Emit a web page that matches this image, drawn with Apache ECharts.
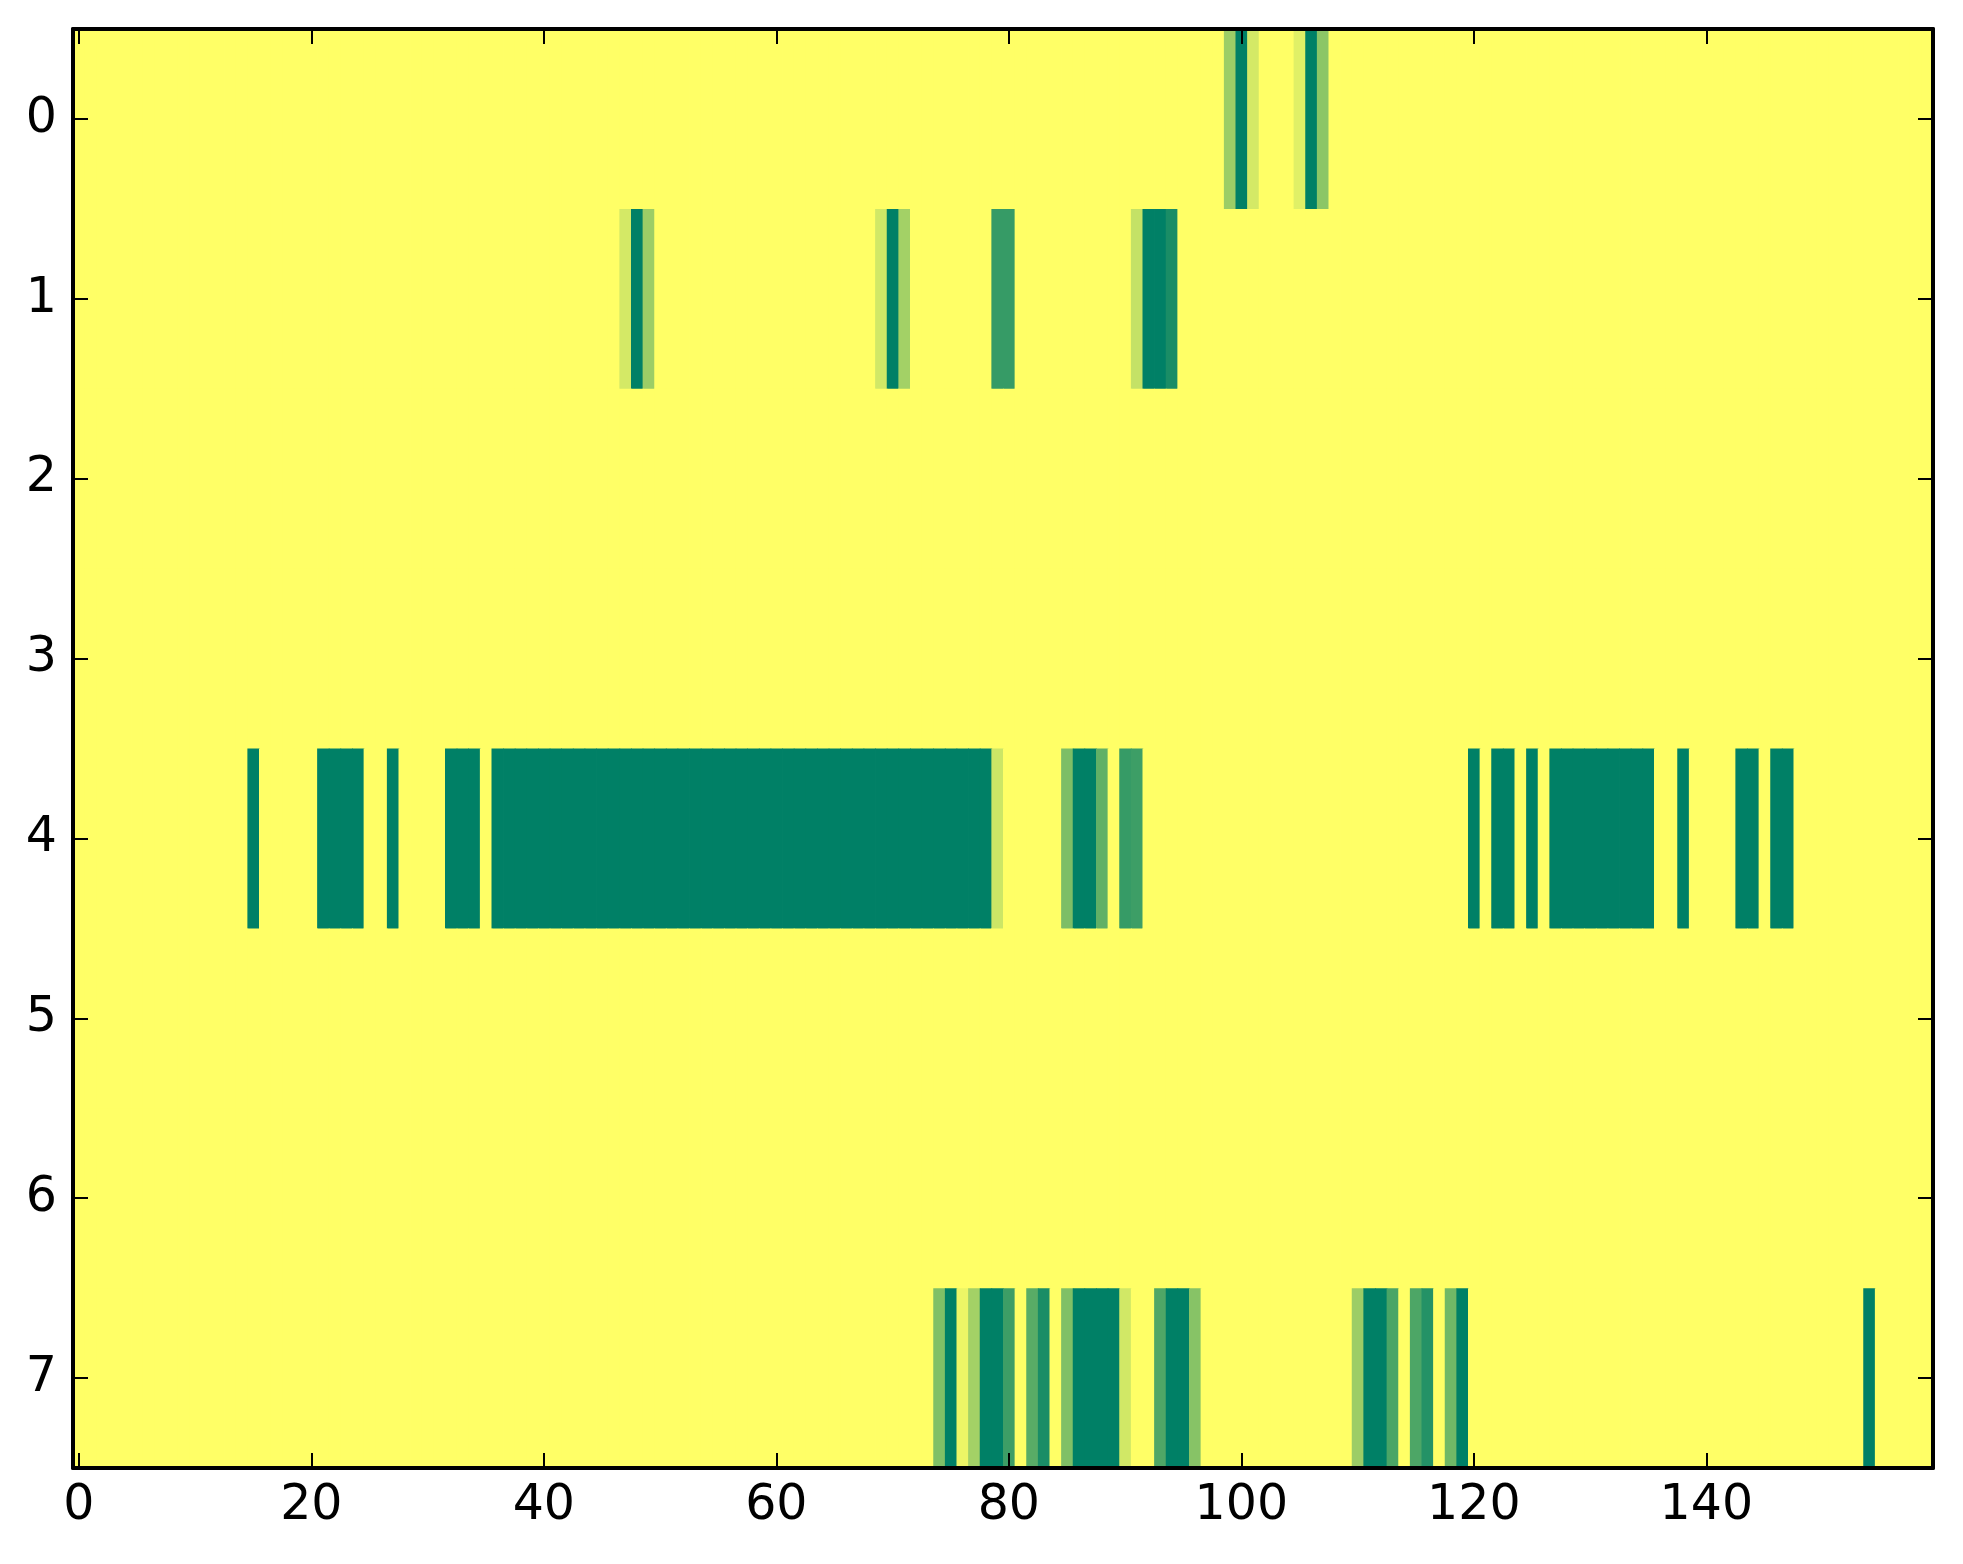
<!DOCTYPE html>
<html>
<head>
<meta charset="utf-8">
<script src="https://cdn.jsdelivr.net/npm/echarts@6/dist/echarts.min.js"></script>
<style>
html,body{margin:0;padding:0;background:#fff;}
#chart{width:1963px;height:1564px;}
</style>
</head>
<body>
<div id="chart"></div>
<script>
// Column and row categories
const nCols = 160;
const xCategories = Array.from({length: nCols}, (_, i) => String(i));
const yCategories = ['0','1','2','3','4','5','6','7'];
const xTickStep = 20;

// Non-zero cells per row: [column, value]; every other cell is 0
const row0 = [[99,0.39],[100,1],[101,0.17],[105,0.12],[106,1],[107,0.45]];
const row1 = [[47,0.17],[48,1],[49,0.39],[69,0.18],[70,1],[71,0.36],[79,0.79],[80,0.79],
              [91,0.23],[92,1],[93,1],[94,0.9]];
const row2 = [];
const row3 = [];
const row4 = [[15,1],[21,1],[22,1],[23,1],[24,1],[27,1],[32,1],[33,1],[34,1],
              [36,1],[37,1],[38,1],[39,1],[40,1],[41,1],[42,1],[43,1],[44,1],[45,1],
              [46,1],[47,1],[48,1],[49,1],[50,1],[51,1],[52,1],[53,1],[54,1],[55,1],
              [56,1],[57,1],[58,1],[59,1],[60,1],[61,1],[62,1],[63,1],[64,1],[65,1],
              [66,1],[67,1],[68,1],[69,1],[70,1],[71,1],[72,1],[73,1],[74,1],[75,1],
              [76,1],[77,1],[78,1],[79,0.2],[85,0.51],[86,1],[87,1],[88,0.62],[90,0.79],[91,0.76],
              [120,1],[122,1],[123,1],[125,1],[127,1],[128,1],[129,1],[130,1],[131,1],
              [132,1],[133,1],[134,1],[135,1],[138,1],[143,1],[144,1],[146,1],[147,1]];
const row5 = [];
const row6 = [];
const row7 = [[74,0.5],[75,1],[76,0.07],[77,0.36],[78,1],[79,1],[80,0.76],[82,0.65],[83,0.9],
              [85,0.5],[86,1],[87,1],[88,1],[89,1],[90,0.18],[93,0.69],[94,1],[95,1],[96,0.47],
              [110,0.39],[111,1],[112,1],[113,0.71],[115,0.7],[116,0.86],[118,0.56],[119,1],[154,1]];
const rows = [row0,row1,row2,row3,row4,row5,row6,row7];

// Build the cell list [x, y, value]
const cells = [];
rows.forEach((r, yi) => {
  const vals = new Array(nCols).fill(0);
  r.forEach(([c, v]) => { vals[c] = v; });
  vals.forEach((v, xi) => cells.push([xi, yi, v]));
});

const FONT = 'DejaVu Sans';
const tickStyle = {show: true, inside: true, length: 15, lineStyle: {color: '#000', width: 2}};
const lineStyle = {show: true, lineStyle: {color: '#000', width: 4}};

const chart = echarts.init(document.getElementById('chart'));
chart.setOption({
  animation: false,
  backgroundColor: '#fff',
  grid: {left: 73, right: 30, top: 29, bottom: 96, containLabel: false},
  xAxis: [
    {type: 'category', data: xCategories, position: 'bottom', z: 10,
     axisLine: lineStyle,
     axisTick: Object.assign({}, tickStyle, {alignWithLabel: true, interval: (i) => i % xTickStep === 0}),
     axisLabel: {interval: (i) => i % xTickStep === 0, color: '#000', fontFamily: FONT, fontSize: 49, margin: 14},
     splitLine: {show: false}},
    {type: 'category', data: xCategories, position: 'top', z: 10,
     axisLine: lineStyle,
     axisTick: Object.assign({}, tickStyle, {alignWithLabel: true, interval: (i) => i % xTickStep === 0}),
     axisLabel: {show: false}, splitLine: {show: false}}
  ],
  yAxis: [
    {type: 'category', data: yCategories, inverse: true, position: 'left', z: 10,
     axisLine: lineStyle,
     axisTick: Object.assign({}, tickStyle, {alignWithLabel: true}),
     axisLabel: {color: '#000', fontFamily: FONT, fontSize: 49, margin: 16},
     splitLine: {show: false}},
    {type: 'category', data: yCategories, inverse: true, position: 'right', z: 10,
     axisLine: lineStyle,
     axisTick: Object.assign({}, tickStyle, {alignWithLabel: true}),
     axisLabel: {show: false}, splitLine: {show: false}}
  ],
  visualMap: {show: false, type: 'continuous', min: 0, max: 1, dimension: 2, seriesIndex: 0,
              inRange: {color: ['#ffff66', '#008066']}},
  series: [{
    type: 'custom', xAxisIndex: 0, yAxisIndex: 0, data: cells,
    encode: {x: 0, y: 1},
    silent: true,
    renderItem: function (params, api) {
      const c = api.coord([api.value(0), api.value(1)]);
      const s = api.size([1, 1]);
      return {
        type: 'rect',
        shape: {x: c[0] - s[0] / 2, y: c[1] - s[1] / 2, width: s[0] + 0.8, height: s[1] + 0.8},
        style: {fill: api.visual('color')}
      };
    }
  }]
});
</script>
</body>
</html>
